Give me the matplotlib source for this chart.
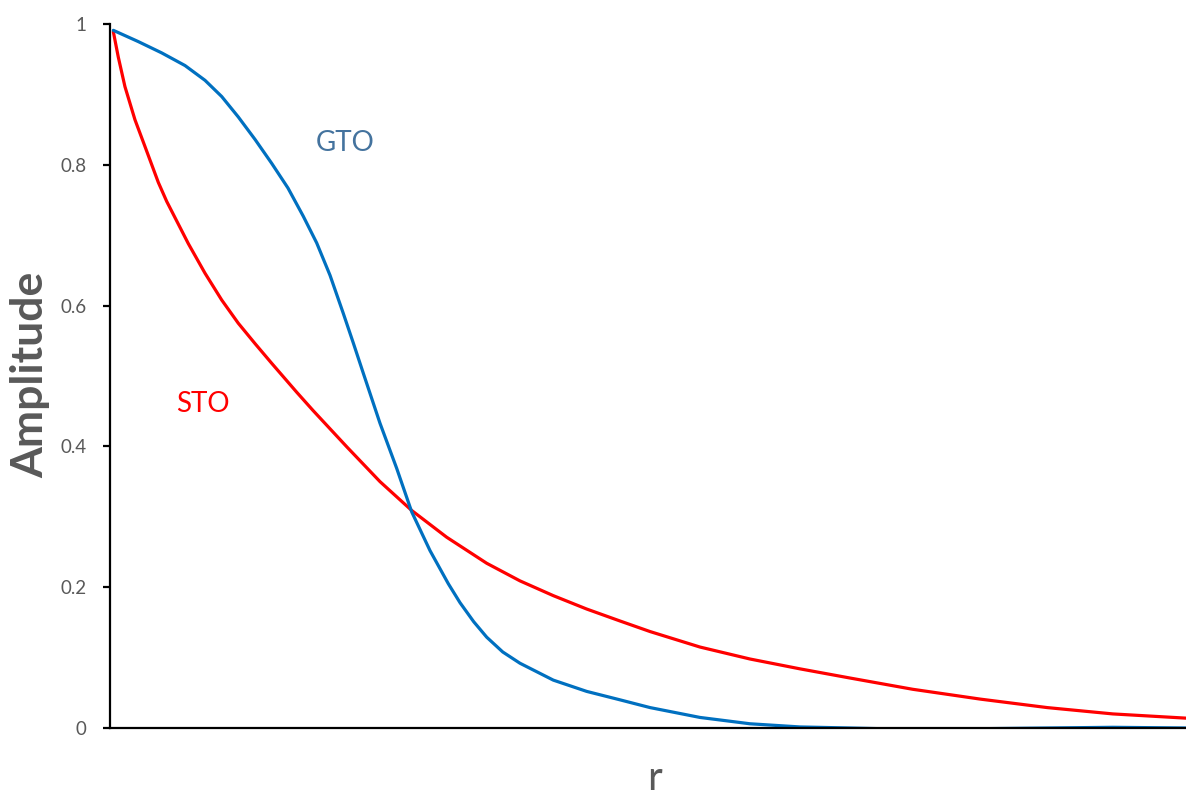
import matplotlib
matplotlib.use("Agg")
import matplotlib.pyplot as plt

plt.rcParams['font.family'] = ['Lato', 'DejaVu Sans']

# GTO (blue)
gto_r = [0.031, 0.263, 0.480, 0.697, 0.883, 1.038, 1.192, 1.348, 1.503, 1.654,
         1.796, 1.921, 2.045, 2.168, 2.261, 2.354, 2.509, 2.664, 2.804, 2.974,
         3.144, 3.253, 3.380, 3.501, 3.650, 3.810, 4.120, 4.430, 4.740, 5.019,
         5.483, 5.948, 6.413, 6.877, 7.46, 8.09, 8.71, 9.32, 10.0]
gto_amp = [0.991, 0.975, 0.959, 0.941, 0.920, 0.897, 0.868, 0.836, 0.802, 0.767,
           0.727, 0.689, 0.643, 0.589, 0.547, 0.504, 0.433, 0.369, 0.307, 0.252,
           0.205, 0.178, 0.151, 0.129, 0.108, 0.092, 0.068, 0.052, 0.040, 0.029,
           0.015, 0.006, 0.0015, 0.000, -0.002, -0.001, 0.000, 0.001, 0.000]

# STO (red)
sto_r = [0.031, 0.077, 0.139, 0.232, 0.325, 0.449, 0.527, 0.728, 0.883, 1.038,
         1.192, 1.348, 1.503, 1.735, 1.887, 2.203, 2.509, 2.804, 3.129, 3.501,
         3.810, 4.120, 4.430, 4.740, 5.019, 5.483, 5.948, 6.413, 6.877, 7.46,
         8.09, 8.71, 9.32, 10.0]
sto_amp = [0.989, 0.953, 0.911, 0.864, 0.826, 0.775, 0.748, 0.688, 0.646, 0.608,
           0.575, 0.546, 0.518, 0.477, 0.451, 0.399, 0.350, 0.309, 0.271, 0.234,
           0.209, 0.188, 0.169, 0.152, 0.137, 0.115, 0.098, 0.084, 0.071, 0.055,
           0.041, 0.029, 0.020, 0.014]

y_ticks = [0, 0.2, 0.4, 0.6, 0.8, 1]
y_tick_labels = ['0', '0.2', '0.4', '0.6', '0.8', '1']

fig = plt.figure(figsize=(11.86, 7.96), dpi=100)
ax = fig.add_axes([110/1186, 1-728/796, 1-110/1186, (728-24)/796])

ax.plot(sto_r, sto_amp, color='#FF0000', lw=2.3, solid_capstyle='round',
        solid_joinstyle='round')
ax.plot(gto_r, gto_amp, color='#0070C0', lw=2.3, solid_capstyle='round',
        solid_joinstyle='round')

ax.set_xlim(0, 10)
ax.set_ylim(0, 1)
ax.set_yticks(y_ticks)
ax.set_yticklabels(y_tick_labels)
ax.set_xticks([])
for s in ['top', 'right']:
    ax.spines[s].set_visible(False)
for s in ['left', 'bottom']:
    ax.spines[s].set_linewidth(1.6)
    ax.spines[s].set_color('black')
ax.tick_params(axis='y', direction='out', length=5, width=1.6, colors='black',
               labelcolor='#595959', labelsize=13.5, pad=12)

fig.text(30/1186, 1-375/796, 'Amplitude', fontsize=32, fontweight='bold',
         color='#595959', rotation=90, ha='center', va='center')
fig.text(655/1186, 1-778/796, 'r', fontsize=29, color='#595959',
         ha='center', va='center')

ax.text(2.184, 0.831, 'GTO', color='#44739E', fontsize=20, ha='center', va='center')
ax.text(0.864, 0.460, 'STO', color='#FF0000', fontsize=20, ha='center', va='center')

ax.patch.set_alpha(0)
fig.savefig('out.png', dpi=100)
